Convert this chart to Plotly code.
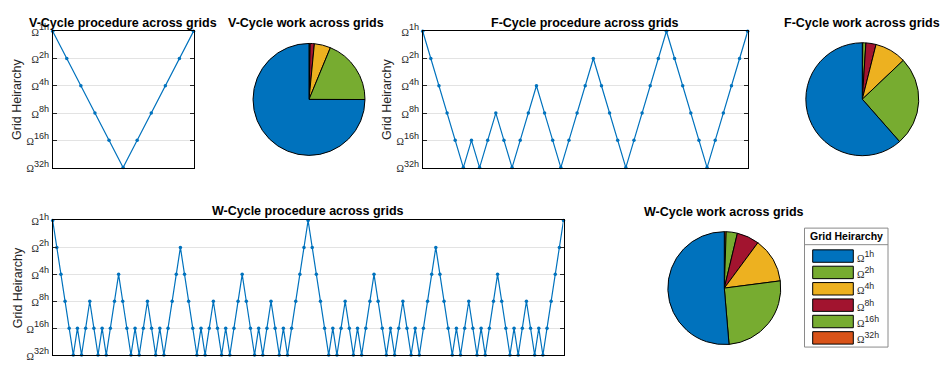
import plotly.graph_objects as go

# ---------------- data ----------------
level_labels = ["1h", "2h", "4h", "8h", "16h", "32h"]
level_index = [0, 1, 2, 3, 4, 5]

v_cycle = [0, 1, 2, 3, 4, 5, 4, 3, 2, 1, 0]

f_cycle = [0, 1, 2, 3, 4, 5, 4, 5, 4, 3, 4, 5, 4, 3, 2, 3, 4, 5, 4, 3, 2,
           1, 2, 3, 4, 5, 4, 3, 2, 1, 0, 1, 2, 3, 4, 5, 4, 3, 2, 1, 0]

w_cycle = [0,
           1, 2, 3, 4, 5, 4, 5, 4, 3, 4, 5, 4, 5, 4, 3, 2, 3, 4, 5, 4, 5, 4, 3, 4, 5, 4, 5, 4, 3, 2,
           1, 2, 3, 4, 5, 4, 5, 4, 3, 4, 5, 4, 5, 4, 3, 2, 3, 4, 5, 4, 5, 4, 3, 4, 5, 4, 5, 4, 3, 2, 1,
           0,
           1, 2, 3, 4, 5, 4, 5, 4, 3, 4, 5, 4, 5, 4, 3, 2, 3, 4, 5, 4, 5, 4, 3, 4, 5, 4, 5, 4, 3, 2,
           1, 2, 3, 4, 5, 4, 5, 4, 3, 4, 5, 4, 5, 4, 3, 2, 3, 4, 5, 4, 5, 4, 3, 4, 5, 4, 5, 4, 3, 2, 1,
           0]

v_work = [75.0, 18.8, 4.7, 1.2, 0.3, 0.04]
f_work = [61.5, 25.6, 9.0, 2.9, 0.9, 0.12]
w_work = [51.3, 25.7, 12.8, 6.4, 3.2, 0.53]

slice_colors = ["#0072BD", "#77AC30", "#EDB120", "#A2142F", "#77AC30", "#D95319"]

# ---------------- layout helpers ----------------
W, H = 940, 371
def px(x):
    return x / W
def py(y):
    return 1 - y / H

BLUE = "#0072BD"
TXT = "#262626"
FONT = "Liberation Sans, Arial, sans-serif"

def omega(lbl):
    return ("<span style='font-family:Liberation Serif;font-size:10px'>\u03a9</span>"
            "<sup>%s</sup>" % lbl)

fig = go.Figure()

line_panels = [
    (v_cycle, "x", "y", (52.7, 193.5, 23.3, 165.7), "V-Cycle procedure across grids", 17.5, 14.5),
    (f_cycle, "x2", "y2", (422.7, 747.7, 23.3, 165.7), "F-Cycle procedure across grids", 387.5, 14.5),
    (w_cycle, "x3", "y3", (52.7, 563.5, 221.0, 361.7), "W-Cycle procedure across grids", 17.5, 211.0),
]

annotations = []
for i, (seq, xa, ya, (x0, x1, y0, y1), title, ytx, tty) in enumerate(line_panels):
    fig.add_trace(go.Scatter(
        x=list(range(len(seq))), y=seq, xaxis=xa, yaxis=ya,
        mode="lines+markers", line=dict(color=BLUE, width=1.2),
        marker=dict(color=BLUE, size=3.5), cliponaxis=False, showlegend=False,
        hoverinfo="skip"))
    sfx = "" if i == 0 else str(i + 1)
    fig.layout["xaxis" + sfx] = dict(
        domain=[px(x0), px(x1)], anchor=ya, range=[0, len(seq) - 1],
        showgrid=False, zeroline=False, showticklabels=False, ticks="",
        showline=True, mirror=True, linecolor="#000000", linewidth=1)
    fig.layout["yaxis" + sfx] = dict(
        domain=[py(y1), py(y0)], anchor=xa, range=[5, 0],
        tickvals=level_index, ticktext=[omega(l) for l in level_labels],
        tickfont=dict(family=FONT, size=13, color=TXT),
        ticks="inside", ticklen=4, tickcolor="#262626",
        showgrid=True, gridcolor="#e3e3e3", gridwidth=1, zeroline=False,
        showline=True, mirror="ticks", linecolor="#000000", linewidth=1)
    annotations.append(dict(
        x=px((x0 + x1) / 2), y=py(tty), xref="paper", yref="paper",
        text="<b>%s</b>" % title, showarrow=False, xanchor="center", yanchor="middle",
        font=dict(family=FONT, size=12.5, color="#000000")))
    annotations.append(dict(
        x=px(ytx), y=py((y0 + y1) / 2), xref="paper", yref="paper",
        text="Grid Heirarchy", showarrow=False, textangle=-90,
        xanchor="center", yanchor="middle",
        font=dict(family=FONT, size=12.5, color=TXT)))

pie_panels = [
    (v_work, (309.0, 94.5), 58.5, "V-Cycle work across grids", 306.0, 15.0),
    (f_work, (862.3, 94.3), 59.0, "F-Cycle work across grids", 862.0, 15.0),
    (w_work, (724.3, 291.7), 59.0, "W-Cycle work across grids", 723.7, 212.0),
]
for vals, (cx, cy), r, title, tx, ty in pie_panels:
    # drawn clockwise in reverse order == counterclockwise from 12 o'clock in original order
    fig.add_trace(go.Pie(
        values=vals[::-1], labels=level_labels[::-1], sort=False, direction="clockwise",
        rotation=0, marker=dict(colors=slice_colors[::-1], line=dict(color="#000000", width=1)),
        textinfo="none", hoverinfo="skip", showlegend=False,
        domain=dict(x=[px(cx - r), px(cx + r)], y=[py(cy + r), py(cy - r)])))
    annotations.append(dict(
        x=px(tx), y=py(ty), xref="paper", yref="paper",
        text="<b>%s</b>" % title, showarrow=False, xanchor="center", yanchor="middle",
        font=dict(family=FONT, size=12.5, color="#000000")))

# ---------------- manual legend ----------------
shapes = []
LX0, LX1, LY0, LYH, LY1 = 804.5, 888.0, 229.0, 246.3, 353.3
shapes.append(dict(type="rect", xref="paper", yref="paper",
                   x0=px(LX0), x1=px(LX1), y0=py(LY1), y1=py(LY0),
                   line=dict(color="#8a8a8a", width=1), fillcolor="#ffffff", layer="below"))
shapes.append(dict(type="line", xref="paper", yref="paper",
                   x0=px(LX0), x1=px(LX1), y0=py(LYH), y1=py(LYH),
                   line=dict(color="#8a8a8a", width=1)))
annotations.append(dict(x=px((LX0 + LX1) / 2), y=py((LY0 + LYH) / 2), xref="paper", yref="paper",
                        text="<b>Grid Heirarchy</b>", showarrow=False, xanchor="center",
                        yanchor="middle", font=dict(family=FONT, size=10.5, color="#000000")))
for k, lbl in enumerate(level_labels):
    cyk = 258.2 + 17.1 * k
    shapes.append(dict(type="rect", xref="paper", yref="paper",
                       x0=px(812.7), x1=px(853.3), y0=py(cyk + 6.5), y1=py(cyk - 6.5),
                       line=dict(color="#000000", width=1), fillcolor=slice_colors[k]))
    annotations.append(dict(x=px(854.5), y=py(cyk), xref="paper", yref="paper",
                            text=omega(lbl), showarrow=False, xanchor="left", yanchor="middle",
                            font=dict(family=FONT, size=12.5, color=TXT)))

fig.update_layout(width=W, height=H, margin=dict(l=0, r=0, t=0, b=0),
                  paper_bgcolor="#ffffff", plot_bgcolor="#ffffff",
                  shapes=shapes, annotations=annotations,
                  font=dict(family=FONT, color=TXT))

fig.write_html("out.html", config={"displayModeBar": False},
               post_script="document.body.style.margin='0';document.body.style.overflow='hidden';")
